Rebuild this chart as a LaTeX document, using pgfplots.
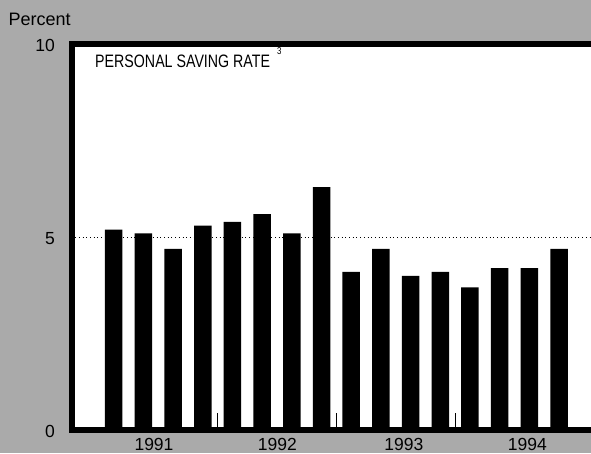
\documentclass[border=0pt]{standalone}
\usepackage{fontspec}
\setmainfont{Liberation Sans}
\newfontfamily\narrowfont[FakeStretch=0.79]{Liberation Sans}
\usepackage{pgfplots}
\pgfplotsset{compat=1.18}
\definecolor{bggray}{RGB}{170,170,170}
\begin{document}
\begin{tikzpicture}[x=1pt,y=1pt]
\fill[bggray] (0,0) rectangle (591,453);
\begin{axis}[
  at={(71.5pt,23pt)}, anchor=south west,
  scale only axis, width=532.1pt, height=385.5pt,
  xmin=-0.4213, xmax=17.5, ymin=0, ymax=10,
  axis line style={line width=6pt, black},
  axis background/.style={fill=white},
  ybar, bar width=17.5pt,
  ytick={0,5,10},
  ymajorgrids,
  grid style={line width=1pt, dash pattern=on 1pt off 2.7pt, black},
  xtick={2.357,6.515,10.77,14.93},
  xticklabels={1991,1992,1993,1994},
  minor xtick={4.5,8.5,12.5},
  xtick pos=left, ytick pos=left,
  major tick length=0pt,
  minor tick length=17pt,
  tick align=inside,
  minor tick style={line width=1.2pt, black},
  tick label style={font=\fontsize{17.5}{18}\selectfont},
  /pgf/number format/assume math mode=true,
  yticklabel style={anchor=east, inner sep=0pt, xshift=-16.5pt, yshift=-1pt},
  xticklabel style={anchor=north, inner sep=0pt, yshift=-8pt},
]
\addplot[fill=black, draw=none] coordinates {
(1,5.2) (2,5.1) (3,4.7) (4,5.3)
(5,5.4) (6,5.6) (7,5.1) (8,6.3)
(9,4.1) (10,4.7) (11,4.0) (12,4.1)
(13,3.7) (14,4.2) (15,4.2) (16,4.7)};
\end{axis}
\node[anchor=base west, inner sep=0pt, font=\fontsize{18}{18}\selectfont] at (8.5,427.7) {Percent};
\node[anchor=base west, inner sep=0pt, font=\narrowfont\fontsize{18}{18}\selectfont] at (95,385) {PERSONAL SAVING RATE\hspace{7pt}\raisebox{13pt}{\fontsize{10}{10}\selectfont 3}};
\pgfresetboundingbox
\useasboundingbox (0,0) rectangle (591,453);
\end{tikzpicture}
\end{document}
